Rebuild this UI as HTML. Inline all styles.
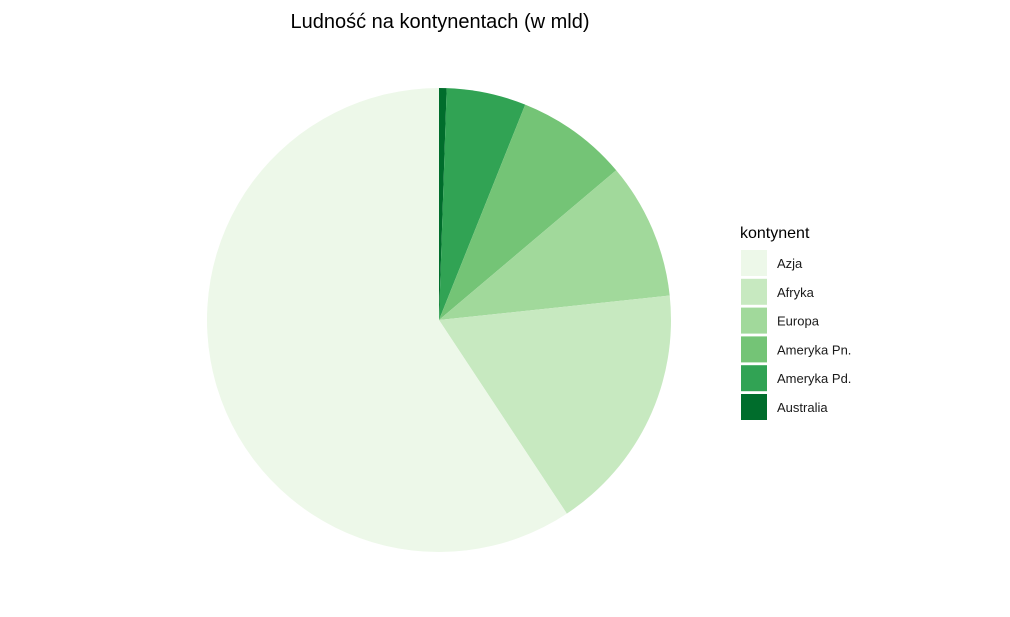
<!DOCTYPE html>
<html><head><meta charset="utf-8"><style>
body{margin:0;background:#fff;font-family:"Liberation Sans",sans-serif}
</style></head><body>
<svg id="chart" width="1010" height="612" xmlns="http://www.w3.org/2000/svg">
<rect width="1010" height="612" fill="#fff"/>
<text x="440" y="28" text-anchor="middle" font-size="20" fill="#000">Ludność na kontynentach (w mld)</text>
<g id="slices"></g>
<text x="740" y="238" font-size="16" fill="#000">kontynent</text>
<g id="legend"></g>
</svg>
<script>
const categories=["Azja","Afryka","Europa","Ameryka Pn.","Ameryka Pd.","Australia"];
const values=[4.5,1.32,0.72,0.59,0.42,0.04];
const colors=["#EDF8E9","#C7E9C0","#A1D99B","#74C476","#31A354","#006D2C"];
const ns="http://www.w3.org/2000/svg";
const cx=439,cy=320,r=232;
const total=values.reduce((a,b)=>a+b,0);
const g=document.getElementById('slices');
let a=0;
for(let i=categories.length-1;i>=0;i--){
  const a0=a,a1=a+values[i]/total*2*Math.PI;a=a1;
  const x0=cx+r*Math.sin(a0),y0=cy-r*Math.cos(a0),x1=cx+r*Math.sin(a1),y1=cy-r*Math.cos(a1);
  const large=(a1-a0)>Math.PI?1:0;
  const p=document.createElementNS(ns,'path');
  p.setAttribute('d',`M${cx},${cy}L${x0},${y0}A${r},${r} 0 ${large} 1 ${x1},${y1}Z`);
  p.setAttribute('fill',colors[i]);
  
  
  g.appendChild(p);
}
const lg=document.getElementById('legend');
categories.forEach((c,i)=>{
  const y=250+i*28.8;
  const rc=document.createElementNS(ns,'rect');
  rc.setAttribute('x',741);rc.setAttribute('y',y);rc.setAttribute('width',26);rc.setAttribute('height',26);
  rc.setAttribute('fill',colors[i]);
  
  
  lg.appendChild(rc);
  const t=document.createElementNS(ns,'text');
  t.setAttribute('x',777);t.setAttribute('y',y+18);t.setAttribute('font-size',13);t.setAttribute('fill','#1a1a1a');
  t.textContent=c;
  
  
  lg.appendChild(t);
});
</script>
</body></html>
